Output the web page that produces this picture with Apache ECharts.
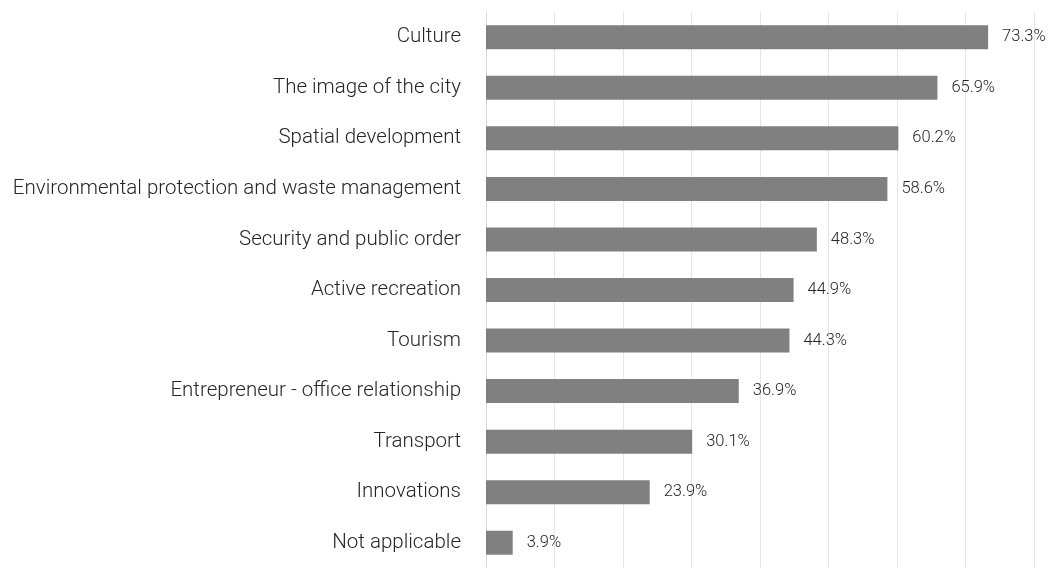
<!DOCTYPE html>
<html>
<head>
<meta charset="utf-8">
<script src="https://cdn.jsdelivr.net/npm/echarts@6/dist/echarts.min.js"></script>
<style>
    html, body { margin: 0; padding: 0; background: #fff; }
    #chart { width: 1055px; height: 568px; }
</style>
</head>
<body>
<div id="chart"></div>
<script>
    // categories, top to bottom
    var categories = ['Culture', 'The image of the city', 'Spatial development',
        'Environmental protection and waste management', 'Security and public order',
        'Active recreation', 'Tourism', 'Entrepreneur - office relationship',
        'Transport', 'Innovations', 'Not applicable'];
    var values = [73.3, 65.9, 60.2, 58.6, 48.3, 44.9, 44.3, 36.9, 30.1, 23.9, 3.9];

    var chart = echarts.init(document.getElementById('chart'));
    chart.setOption({
        animation: false,
        grid: { left: 486, right: 21, top: 12, height: 560, containLabel: false },
        xAxis: {
            type: 'value',
            min: 0,
            max: 80,
            interval: 10,
            axisLabel: { show: false },
            axisLine: { show: false },
            axisTick: { show: false },
            splitLine: { show: true, lineStyle: { color: '#e6e6e6', width: 1 } }
        },
        yAxis: {
            type: 'category',
            inverse: true,
            data: categories,
            axisLine: { show: true, lineStyle: { color: '#d9d9d9', width: 1 } },
            axisTick: { show: false },
            axisLabel: {
                margin: 25,
                fontFamily: 'Roboto',
                fontWeight: 300,
                fontSize: 20.5,
                color: '#262626'
            }
        },
        series: [{
            type: 'bar',
            data: values,
            barWidth: 24,
            itemStyle: { color: '#808080' },
            label: {
                show: true,
                position: 'right',
                distance: 14,
                formatter: '{c}%',
                fontFamily: 'Roboto',
                fontWeight: 300,
                fontSize: 16.5,
                color: '#262626'
            }
        }]
    });
</script>
</body>
</html>
